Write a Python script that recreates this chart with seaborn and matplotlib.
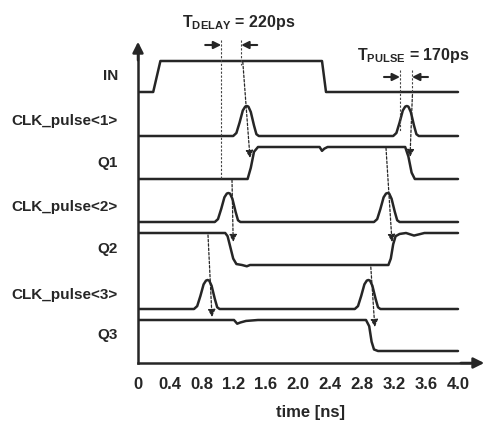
import numpy as np
import pandas as pd
import seaborn as sns
import matplotlib.pyplot as plt

# signal names, top to bottom
signals = ['IN', 'CLK_pulse<1>', 'Q1', 'CLK_pulse<2>', 'Q2', 'CLK_pulse<3>', 'Q3']
# low level and swing of each trace (plot units)
base = [271, 227, 184, 141, 98, 54, 12]
swing = [31, 30, 32, 29, 32, 29, 31]

# step-like traces: time [ns] and normalized level
in_t = [0, 0.19, 0.28, 2.30, 2.35, 4.0]
in_v = [0, 0, 1, 1, 0, 0]
q1_t = [0, 1.37, 1.41, 1.45, 1.50, 2.27, 2.30, 2.33, 2.37, 3.34, 3.38, 3.42, 3.46, 4.0]
q1_v = [0, 0, 0.35, 0.85, 1, 1, 0.88, 0.95, 1, 1, 0.7, 0.2, 0, 0]
q2_t = [0, 1.09, 1.12, 1.15, 1.19, 1.23, 1.30, 1.36, 1.40, 1.45, 3.13, 3.16, 3.19,
        3.22, 3.27, 3.35, 3.45, 3.50, 3.58, 3.70, 4.0]
q2_v = [1, 1, 0.9, 0.6, 0.2, 0.03, 0, -0.04, 0, 0, 0, 0.2, 0.65, 0.9, 0.97, 1.0,
        0.92, 0.95, 1.0, 1, 1]
q3_t = [0, 1.20, 1.24, 1.28, 1.35, 1.50, 2.85, 2.89, 2.92, 2.95, 3.0, 4.0]
q3_v = [1, 1, 0.88, 0.92, 0.97, 1, 1, 0.8, 0.3, 0.05, 0, 0]

# clock pulse shape (offset from peak [ns], level)
pulse_dt = [-0.17, -0.13, -0.09, -0.05, -0.02, 0, 0.02, 0.05, 0.09, 0.12, 0.15]
pulse_v = [0, 0.1, 0.45, 0.85, 0.98, 1, 0.98, 0.8, 0.35, 0.06, 0]
clk1_peaks = [1.36, 3.36]
clk2_peaks = [1.13, 3.12]
clk3_peaks = [0.87, 2.88]

# axis ticks
xticks = [0, 0.4, 0.8, 1.2, 1.6, 2.0, 2.4, 2.8, 3.2, 3.6, 4.0]
xtick_labels = ['0', '0.4', '0.8', '1.2', '1.6', '2.0', '2.4', '2.8', '3.2', '3.6', '4.0']

# timing markers (ns) and dashed causality arrows (t0, y0, t1, y1)
delay_t = [1.04, 1.29]
pulse_t = [3.275, 3.425]
guides = [(1.04, 323, 183), (1.29, 323, 298), (3.275, 293, 232), (3.425, 293, 268)]
causal = [(1.31, 301, 1.40, 205), (3.43, 268, 3.40, 206), (1.175, 183, 1.19, 121),
          (0.875, 128, 0.925, 46), (3.10, 215, 3.175, 121), (2.91, 96, 2.96, 36)]


def clock(peaks):
    t, v = [0.0], [0.0]
    for p in peaks:
        t += [p + d for d in pulse_dt]
        v += pulse_v
    return t + [4.0], v + [0.0]


traces = [(in_t, in_v), clock(clk1_peaks), (q1_t, q1_v), clock(clk2_peaks),
          (q2_t, q2_v), clock(clk3_peaks), (q3_t, q3_v)]

rows = []
for name, b, s, (t, v) in zip(signals, base, swing, traces):
    for ti, vi in zip(t, v):
        rows.append({'signal': name, 't': ti, 'y': b + s * vi})
df = pd.DataFrame(rows)

sns.set_style('white')
plt.rcParams['font.family'] = ['Liberation Sans', 'DejaVu Sans']
plt.rcParams['font.weight'] = 'bold'
plt.rcParams['mathtext.fontset'] = 'custom'
plt.rcParams['mathtext.rm'] = 'Liberation Sans:bold'
plt.rcParams['mathtext.bf'] = 'Liberation Sans:bold'

ink = '#262626'
fig = plt.figure(figsize=(4.87, 4.25), dpi=100)
ax = fig.add_axes([138 / 487, 62 / 425, (470 - 138) / 487, 310 / 425])

sns.lineplot(data=df, x='t', y='y', units='signal', estimator=None, sort=False,
             color=ink, lw=1.8, ax=ax)

ax.set_xlim(0, 332 / 80)
ax.set_ylim(0, 310)
ax.set_xticks(xticks)
ax.set_xticklabels(xtick_labels, fontsize=12, fontweight='bold')
ax.set_yticks([])
ax.tick_params(axis='x', direction='out', length=5, width=1.2, color=ink, pad=5)
ax.set_xlabel('time [ns]', fontsize=12, fontweight='bold')
ax.xaxis.set_label_coords((310 - 138) / 332, -0.135)
ax.set_ylabel('')
for side in ['top', 'right']:
    ax.spines[side].set_visible(False)
for side in ['left', 'bottom']:
    ax.spines[side].set_linewidth(1.8)
    ax.spines[side].set_color(ink)

# axis arrowheads
ax.annotate('', xy=(0, 324), xytext=(0, 300), xycoords=('axes fraction', 'data'),
            arrowprops=dict(arrowstyle='-|>', color=ink, lw=1.8, mutation_scale=16))
ax.annotate('', xy=(349 / 80, 0), xytext=(4.0, 0), xycoords=('data', 'axes fraction'),
            arrowprops=dict(arrowstyle='-|>', color=ink, lw=1.8, mutation_scale=16))

# signal labels
for name, b, s in zip(signals, base, swing):
    ax.text(-0.25, b + s / 2, name, ha='right', va='center', fontsize=11,
            fontweight='bold', color=ink, clip_on=False)

# vertical dashed guides
for t, y0, y1 in guides:
    ax.plot([t, t], [y0, y1], ls=(0, (2, 1.5)), lw=0.8, color='#444444', clip_on=False)

# dashed causality arrows
for t0, y0, t1, y1 in causal:
    ax.annotate('', xy=(t1, y1), xytext=(t0, y0),
                arrowprops=dict(arrowstyle='-|>', ls=(0, (2, 1.5)), lw=0.9,
                                color=ink, mutation_scale=11, shrinkA=0, shrinkB=0))

# timing dimension arrows
for (a, b_), yy in [(delay_t, 318), (pulse_t, 286)]:
    ax.annotate('', xy=(a, yy), xytext=(a - 0.2, yy), annotation_clip=False,
                arrowprops=dict(arrowstyle='-|>', color=ink, lw=1.5, mutation_scale=11,
                                shrinkA=0, shrinkB=0))
    ax.annotate('', xy=(b_, yy), xytext=(b_ + 0.2, yy), annotation_clip=False,
                arrowprops=dict(arrowstyle='-|>', color=ink, lw=1.5, mutation_scale=11,
                                shrinkA=0, shrinkB=0))

ax.text(0.55, 336, r'T$_{\mathrm{DELAY}}$ = 220ps', fontsize=11.5, fontweight='bold',
        color=ink, va='baseline', ha='left', clip_on=False)
ax.text(2.74, 303, r'T$_{\mathrm{PULSE}}$ = 170ps', fontsize=11.5, fontweight='bold',
        color=ink, va='baseline', ha='left', clip_on=False)

fig.savefig('out.png', dpi=100)
